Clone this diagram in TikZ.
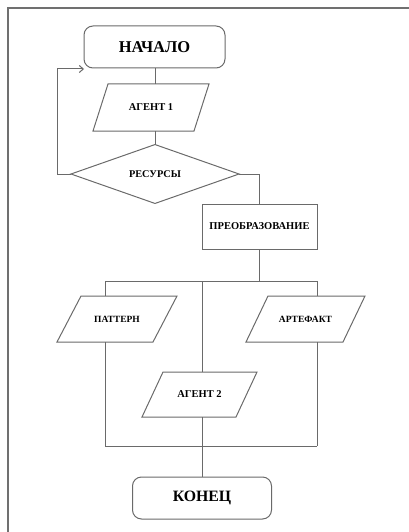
\documentclass[tikz,border=0pt]{standalone}
\usepackage{fontspec}
\setmainfont{Liberation Serif}
\usetikzlibrary{shapes.geometric,arrows.meta}
\definecolor{ln}{HTML}{6A6A6A}
\definecolor{fr}{HTML}{707070}
\tikzset{
  lbl/.style={inner sep=0pt,outer sep=0pt,font=\bfseries\fontsize{9.5}{11}\selectfont,text=black},
  midtxt/.style={font=\bfseries\fontsize{10.5}{12}\selectfont},
  bigtxt/.style={font=\bfseries\fontsize{16.5}{19}\selectfont},
  term/.style={draw=ln,line width=1pt,rounded corners=9pt,inner sep=0pt,outer sep=0pt,text=black},
  proc/.style={draw=ln,line width=1pt,inner sep=0pt,outer sep=0pt},
  dec/.style={draw=ln,line width=1pt,shape=diamond,inner sep=0pt,outer sep=0pt},
  conn/.style={draw=ln,line width=1pt},
  frame/.style={draw=fr,line width=1.5pt}
}
\begin{document}
\begin{tikzpicture}[x=1pt,y=-1pt]
\useasboundingbox (0,0) rectangle (409,532);
\draw[frame] (8,532) -- (8,8) -- (409,8);

% nodes
\node[term,bigtxt,minimum width=141pt,minimum height=42pt] (start) at (154.5,47) {НАЧАЛО};
\node[lbl,midtxt,minimum width=116pt,minimum height=47pt] (ag1) at (151,107.5) {АГЕНТ 1};
\node[dec,lbl,font=\bfseries\fontsize{10.3}{12}\selectfont,minimum width=168pt,minimum height=58pt] (res) at (155,174) {РЕСУРСЫ};
\node[proc,lbl,font=\bfseries\fontsize{10.5}{12}\selectfont,minimum width=115pt,minimum height=45pt] (pr) at (259.5,226.5) {ПРЕОБРАЗОВАНИЕ};
\node[lbl,minimum width=120pt,minimum height=46pt] (pat) at (117,319) {ПАТТЕРН};
\node[lbl,minimum width=119pt,minimum height=46pt] (art) at (305.5,319) {АРТЕФАКТ};
\node[lbl,midtxt,minimum width=115pt,minimum height=45pt] (ag2) at (199.5,394.5) {АГЕНТ 2};
\node[term,font=\bfseries\fontsize{15.8}{18}\selectfont,minimum width=139pt,minimum height=42pt] (end) at (202,498) {КОНЕЦ};

% parallelogram outlines
\draw[conn] ([xshift=15pt]ag1.north west) -- (ag1.north east) -- ([xshift=-15pt]ag1.south east) -- (ag1.south west) -- cycle;
\draw[conn] ([xshift=24pt]pat.north west) -- (pat.north east) -- ([xshift=-24pt]pat.south east) -- (pat.south west) -- cycle;
\draw[conn] ([xshift=22pt]art.north west) -- (art.north east) -- ([xshift=-22pt]art.south east) -- (art.south west) -- cycle;
\draw[conn] ([xshift=21pt]ag2.north west) -- (ag2.north east) -- ([xshift=-21pt]ag2.south east) -- (ag2.south west) -- cycle;

% junction coordinates
\coordinate (loopend) at (84,69);
\coordinate (bl) at (105,281);
\coordinate (bm) at (202,281);
\coordinate (br) at (317,281);
\coordinate (cbl) at (105,446);
\coordinate (cbm) at (202,446);
\coordinate (cbr) at (317,446);

% connectors
\draw[conn] (start.south -| res.north) -- (ag1.north -| res.north);
\draw[conn] (ag1.south -| res.north) -- (res.north);
\draw[conn,-{Straight Barb[length=4pt,width=7pt]}] (res.west) -- ++(-14,0) |- (loopend);
\draw[conn] (res.east) -| (pr.north);
\draw[conn] (pr.south) -- (pr.south |- bm);
\draw[conn] (bl) -- (br);
\draw[conn] (bl) -- (bl |- pat.north);
\draw[conn] (pat.south -| bl) -- (cbl);
\draw[conn] (br) -- (br |- art.north);
\draw[conn] (art.south -| br) -- (cbr);
\draw[conn] (bm) -- (bm |- ag2.north);
\draw[conn] (ag2.south -| bm) -- (end.north);
\draw[conn] (cbl) -- (cbr);
\end{tikzpicture}
\end{document}
